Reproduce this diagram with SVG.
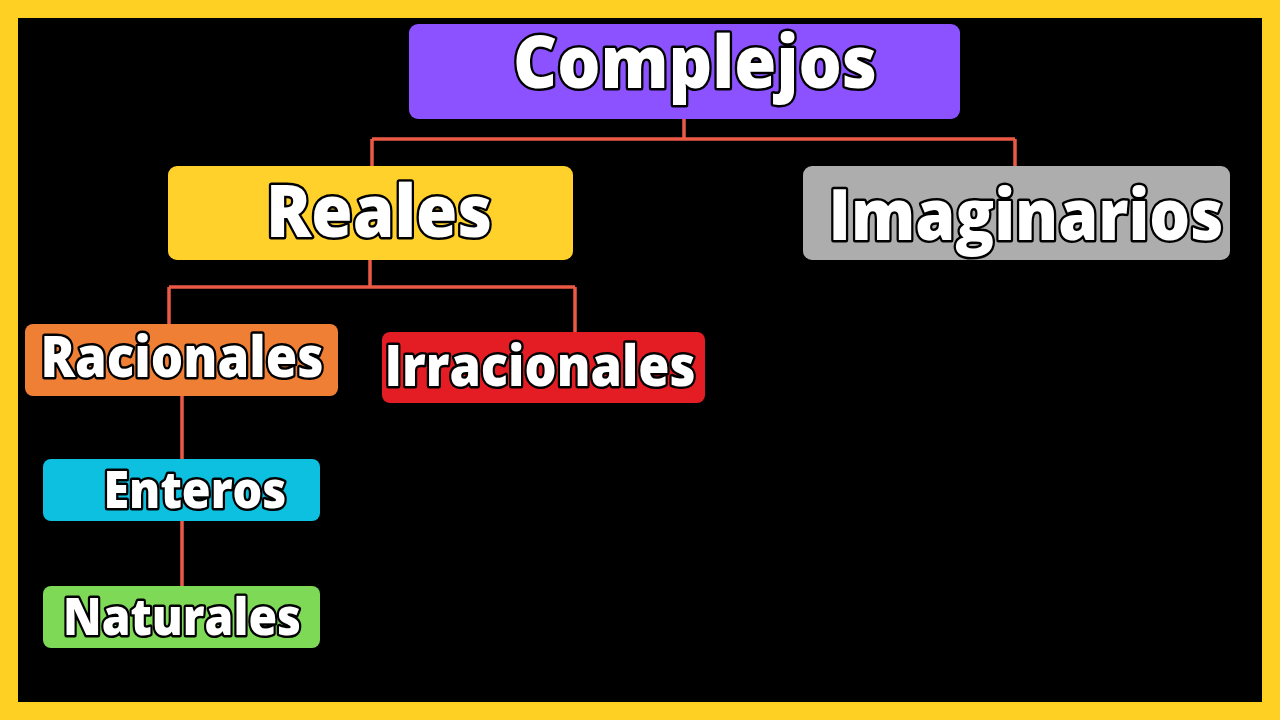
<svg xmlns="http://www.w3.org/2000/svg" width="1280" height="720" viewBox="0 0 1280 720">
<style>
.lbl{font-family:"Open Sans","Noto Sans","DejaVu Sans",sans-serif;font-weight:800;fill:#fff;stroke:#000;stroke-width:5;paint-order:stroke fill;stroke-linejoin:round;text-anchor:middle}
.c{fill:none;stroke:#EC5A45;stroke-width:3.5}
</style>
<rect x="0" y="0" width="1280" height="720" fill="#FDD023"/>
<rect x="18" y="18" width="1244" height="684" fill="#000"/>
<g id="connectors">
<path class="c" d="M684 119 V139 M372 139 H1015 M372 139 V166 M1015 139 V166"/>
<path class="c" d="M370 260 V287 M169 287 H575 M169 287 V324 M575 287 V332"/>
<path class="c" d="M182 396 V459 M182 521 V586"/>
</g>
<g id="complejos">
<rect x="409" y="24" width="551" height="95" rx="9" fill="#8C52FF"/>
<text class="lbl" x="695" y="88" font-size="72" textLength="364" lengthAdjust="spacingAndGlyphs">Complejos</text>
</g>
<g id="reales">
<rect x="168" y="166" width="405" height="94" rx="9" fill="#FFD12A"/>
<text class="lbl" x="379" y="237" font-size="72" textLength="226" lengthAdjust="spacingAndGlyphs">Reales</text>
</g>
<g id="imaginarios">
<rect x="803" y="166" width="427" height="94" rx="9" fill="#ADADAD"/>
<text class="lbl" x="1026" y="240" font-size="70" textLength="395" lengthAdjust="spacingAndGlyphs">Imaginarios</text>
</g>
<g id="racionales">
<rect x="25" y="324" width="313" height="72" rx="8" fill="#EE7F34"/>
<text class="lbl" x="182" y="377" font-size="56" textLength="283" lengthAdjust="spacingAndGlyphs">Racionales</text>
</g>
<g id="irracionales">
<rect x="382" y="332" width="323" height="71" rx="8" fill="#E31D23"/>
<text class="lbl" x="540" y="386" font-size="56" textLength="311" lengthAdjust="spacingAndGlyphs">Irracionales</text>
</g>
<g id="enteros">
<rect x="43" y="459" width="277" height="62" rx="8" fill="#0DC0DF"/>
<text class="lbl" x="195" y="508" font-size="51" textLength="183" lengthAdjust="spacingAndGlyphs">Enteros</text>
</g>
<g id="naturales">
<rect x="43" y="586" width="277" height="62" rx="8" fill="#7ED957"/>
<text class="lbl" x="182" y="635" font-size="52" textLength="238" lengthAdjust="spacingAndGlyphs">Naturales</text>
</g>
</svg>
